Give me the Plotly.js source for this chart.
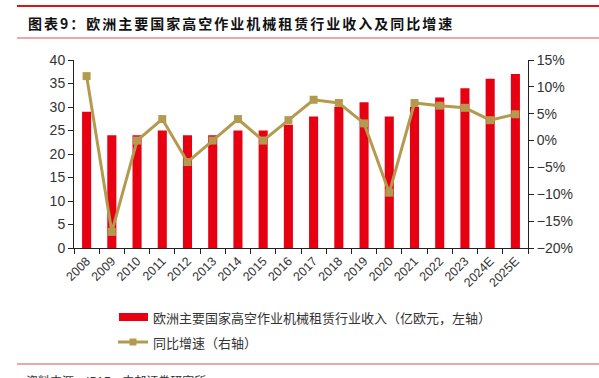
<!DOCTYPE html>
<html><head><meta charset="utf-8">
<script src="https://cdn.plot.ly/plotly-3.0.1.min.js"></script>
<style>
html,body{margin:0;padding:0;background:#fff;}
#chart{width:599px;height:378px;}
g.annotation[data-index="0"] text{letter-spacing:2px;}
</style>
</head><body><div id="chart"></div>
<script>
const years = ['2008','2009','2010','2011','2012','2013','2014','2015','2016','2017','2018','2019','2020','2021','2022','2023','2024E','2025E'];
const revenue = [29,24,24,25,24,24,25,25,26.2,28,30,31,28,30,32,34,36,37];
const growth = [0.12,-0.17,0.0,0.04,-0.04,0.0,0.04,0.0,0.038,0.076,0.07,0.032,-0.097,0.07,0.065,0.061,0.038,0.049];
const seriesNames = ['欧洲主要国家高空作业机械租赁行业收入（亿欧元，左轴）','同比增速（右轴）'];
const titleText = '图表9：欧洲主要国家高空作业机械租赁行业收入及同比增速';
const sourceText = '资料来源：IPAF，中邮证券研究所';

const RED = '#E60012', GOLD = '#B49A4E';
const W = 599, H = 378, L = 74, R = 71, T = 60, B = 130;
const pw = W - L - R, ph = H - T - B;
const px = x => (x - L) / pw;
const py = y => (H - B - y) / ph;
const cjk = '"Noto Sans CJK SC", "Liberation Sans", sans-serif';
const lat = '"Liberation Sans", Arial, sans-serif';

const traces = [
  {type:'bar', x: years, y: revenue, name: seriesNames[0], marker:{color:RED}, width:0.36, yaxis:'y', showlegend:false},
  {type:'scatter', mode:'lines+markers', x: years, y: growth, name: seriesNames[1], yaxis:'y2', cliponaxis:false,
   line:{color:GOLD, width:3}, marker:{symbol:'square', size:8, color:GOLD}, showlegend:false}
];

const layout = {
  width: W, height: H,
  margin: {l:L, r:R, t:T, b:B},
  paper_bgcolor:'#fff', plot_bgcolor:'#fff',
  font:{family:lat, size:12, color:'#333'},
  showlegend:false,
  xaxis:{type:'category', range:[-0.5, years.length - 0.5], autorange:false, showline:true, linecolor:'#222', linewidth:1,
         ticks:'outside', tickson:'boundaries', ticklen:5, tickcolor:'#222', tickangle:-45,
         tickfont:{family:lat, size:12.5, color:'#333'}, showgrid:false, zeroline:false},
  yaxis:{range:[0,40], dtick:5, showline:true, linecolor:'#222', ticks:'outside', ticklen:5, tickcolor:'#222',
         tickfont:{family:lat, size:14, color:'#333'}, showgrid:false, zeroline:false},
  yaxis2:{range:[-0.2,0.15], dtick:0.05, tickformat:'.0%', overlaying:'y', side:'right', showline:true, linecolor:'#222',
          ticks:'outside', ticklen:5, tickcolor:'#222', tickfont:{family:lat, size:14, color:'#333'}, showgrid:false, zeroline:false},
  shapes:[
    {type:'line', xref:'paper', yref:'paper', x0:px(17), x1:px(599), y0:py(6), y1:py(6), line:{color:'#D7141A', width:2}},
    {type:'line', xref:'paper', yref:'paper', x0:px(17), x1:px(599), y0:py(38), y1:py(38), line:{color:'#E88A8A', width:1.5}},
    {type:'line', xref:'paper', yref:'paper', x0:px(17), x1:px(599), y0:py(364), y1:py(364), line:{color:'#E88A8A', width:1.5}},
    {type:'rect', xref:'paper', yref:'paper', x0:px(119), x1:px(148), y0:py(313), y1:py(321), fillcolor:RED, line:{width:0}},
    {type:'line', xref:'paper', yref:'paper', x0:px(118), x1:px(148), y0:py(342), y1:py(342), line:{color:GOLD, width:3}},
    {type:'rect', xref:'paper', yref:'paper', x0:px(129.5), x1:px(136.5), y0:py(338.5), y1:py(345.5), fillcolor:GOLD, line:{width:0}}
  ],
  annotations:[
    {xref:'paper', yref:'paper', x:px(26), y:py(23), xanchor:'left', yanchor:'middle', align:'left', showarrow:false, text:titleText,
     font:{family:cjk, size:14, color:'#111', weight:'bold'}},
    {xref:'paper', yref:'paper', x:px(151), y:py(317), xanchor:'left', yanchor:'middle', showarrow:false, text:seriesNames[0],
     font:{family:cjk, size:13, color:'#333'}},
    {xref:'paper', yref:'paper', x:px(151), y:py(342), xanchor:'left', yanchor:'middle', showarrow:false, text:seriesNames[1],
     font:{family:cjk, size:13, color:'#333'}},
    {xref:'paper', yref:'paper', x:px(24), y:py(370), xanchor:'left', yanchor:'top', showarrow:false, text:sourceText,
     font:{family:cjk, size:12, color:'#333'}}
  ]
};
Plotly.newPlot('chart', traces, layout, {displayModeBar:false, staticPlot:true});
</script></body></html>
